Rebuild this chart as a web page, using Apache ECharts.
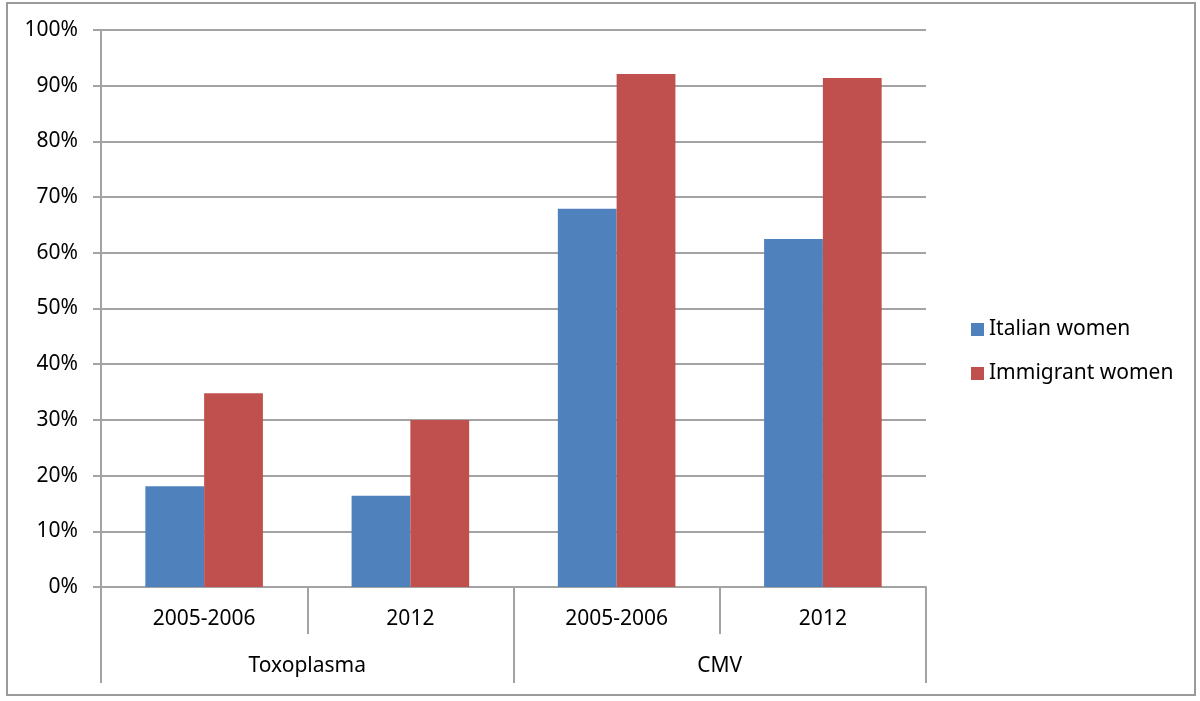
<!DOCTYPE html>
<html>
<head>
<meta charset="utf-8">
<script src="https://cdn.jsdelivr.net/npm/echarts@6/dist/echarts.min.js"></script>
<style>
  html, body { margin: 0; padding: 0; background: #fff; }
  #chart { width: 1200px; height: 701px; }
</style>
</head>
<body>
<div id="chart"></div>
<script>
const periods = ["2005-2006", "2012", "2005-2006", "2012"];
const infections = ["Toxoplasma", "CMV"];
const italianWomen = [18.1, 16.4, 67.9, 62.5];
const immigrantWomen = [34.8, 30.0, 92.1, 91.4];

const gridColor = "#a3a3a3";
const font = "Noto Sans";

const chart = echarts.init(document.getElementById("chart"), null, { renderer: "canvas" });

chart.setOption({
  animation: false,
  backgroundColor: "#fff",
  textStyle: { fontFamily: font, color: "#000" },
  graphic: [
    {
      type: "rect",
      shape: { x: 7, y: 3, width: 1188, height: 692 },
      style: { fill: "none", stroke: "#9a9a9a", lineWidth: 2 },
      silent: true
    }
  ],
  grid: { left: 101, right: 274, top: 30, bottom: 114 },
  legend: {
    orient: "vertical",
    left: 966,
    top: 314,
    itemWidth: 13,
    itemHeight: 13,
    itemGap: 23,
    icon: "rect",
    textStyle: { fontFamily: font, fontSize: 21, color: "#000", lineHeight: 21 },
    data: ["Italian women", "Immigrant women"]
  },
  xAxis: [
    {
      type: "category",
      data: periods,
      position: "bottom",
      axisLine: { show: true, lineStyle: { color: gridColor, width: 2 } },
      axisTick: { show: true, interval: 0, length: 47, lineStyle: { color: gridColor, width: 2 } },
      axisLabel: { interval: 0, margin: 22, fontSize: 21, color: "#000", fontFamily: font }
    },
    {
      type: "category",
      data: infections,
      position: "bottom",
      axisLine: { show: false },
      axisTick: { show: true, interval: 0, length: 96, lineStyle: { color: gridColor, width: 2 } },
      axisLabel: { interval: 0, margin: 69, fontSize: 21, color: "#000", fontFamily: font }
    }
  ],
  yAxis: {
    type: "value",
    min: 0,
    max: 100,
    interval: 10,
    axisLine: { show: true, lineStyle: { color: gridColor, width: 2 } },
    axisTick: { show: true, length: 8, lineStyle: { color: gridColor, width: 2 } },
    axisLabel: { formatter: "{value}%", margin: 23, fontSize: 21, color: "#000", fontFamily: font },
    splitLine: { show: true, lineStyle: { color: gridColor, width: 2 } }
  },
  series: [
    {
      name: "Italian women",
      type: "bar",
      xAxisIndex: 0,
      data: italianWomen,
      itemStyle: { color: "#4f81bd" },
      barGap: "0%",
      barCategoryGap: "43%"
    },
    {
      name: "Immigrant women",
      type: "bar",
      xAxisIndex: 0,
      data: immigrantWomen,
      itemStyle: { color: "#c0504d" },
      barGap: "0%",
      barCategoryGap: "43%"
    }
  ]
});
</script>
</body>
</html>
